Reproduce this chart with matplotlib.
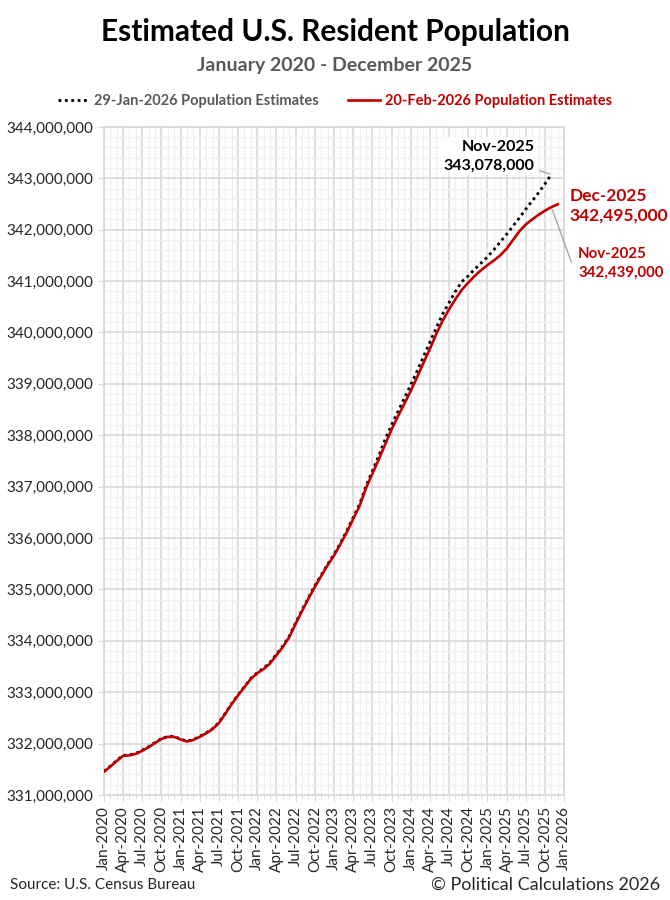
import matplotlib
matplotlib.use("Agg")
from matplotlib import pyplot as plt
from matplotlib.ticker import FuncFormatter, MultipleLocator
import numpy as np

plt.rcParams['font.family'] = ['Lato', 'DejaVu Sans']

# month index 0 = Jan-2020
tick_labels = ['Jan-2020', 'Apr-2020', 'Jul-2020', 'Oct-2020', 'Jan-2021', 'Apr-2021',
               'Jul-2021', 'Oct-2021', 'Jan-2022', 'Apr-2022', 'Jul-2022', 'Oct-2022',
               'Jan-2023', 'Apr-2023', 'Jul-2023', 'Oct-2023', 'Jan-2024', 'Apr-2024',
               'Jul-2024', 'Oct-2024', 'Jan-2025', 'Apr-2025', 'Jul-2025', 'Oct-2025',
               'Jan-2026']

# 20-Feb-2026 estimates, millions, Jan-2020 .. Dec-2025
feb_est = [331.45, 331.55, 331.66, 331.76, 331.77, 331.80, 331.86, 331.93, 332.01, 332.09,
           332.13, 332.13, 332.08, 332.04, 332.07, 332.13, 332.20, 332.28, 332.40, 332.58,
           332.77, 332.94, 333.10, 333.26, 333.37, 333.45, 333.56, 333.72, 333.88, 334.07,
           334.33, 334.58, 334.82, 335.05, 335.26, 335.47, 335.66, 335.88, 336.11, 336.37,
           336.62, 336.97, 337.25, 337.53, 337.82, 338.11, 338.37, 338.61, 338.86, 339.13,
           339.41, 339.68, 339.97, 340.23, 340.45, 340.65, 340.83, 340.97, 341.10, 341.21,
           341.31, 341.40, 341.50, 341.63, 341.80, 341.97, 342.10, 342.20, 342.29, 342.37,
           342.439, 342.495]

# 29-Jan-2026 estimates, millions, Jan-2020 .. Nov-2025
jan_est = [331.46, 331.56, 331.67, 331.77, 331.78, 331.81, 331.87, 331.94, 332.02, 332.10,
           332.14, 332.14, 332.09, 332.05, 332.08, 332.14, 332.21, 332.29, 332.41, 332.59,
           332.78, 332.95, 333.11, 333.27, 333.38, 333.47, 333.58, 333.74, 333.90, 334.09,
           334.35, 334.60, 334.84, 335.07, 335.28, 335.49, 335.68, 335.90, 336.14, 336.40,
           336.66, 337.01, 337.30, 337.60, 337.92, 338.20, 338.46, 338.72, 338.98, 339.25,
           339.53, 339.81, 340.09, 340.36, 340.58, 340.80, 340.99, 341.10, 341.23, 341.35,
           341.47, 341.61, 341.76, 341.91, 342.07, 342.23, 342.40, 342.56, 342.72, 342.89,
           343.078]

feb = np.array(feb_est) * 1e6
jan = np.array(jan_est) * 1e6
x_feb = np.arange(len(feb))
x_jan = np.arange(len(jan))

RED = '#c00000'
GRAY = '#595959'

fig = plt.figure(figsize=(6.7, 9), dpi=100)
ax = fig.add_axes([0.155, 0.1167, 0.687, 0.7423])

ax.plot(x_jan, jan, color='black', linewidth=2.0, linestyle=(0, (1, 1.3)),
        label='29-Jan-2026 Population Estimates', zorder=3)
ax.plot(x_feb, feb, color=RED, linewidth=1.9, label='20-Feb-2026 Population Estimates', zorder=4)

ax.set_xlim(0, 72)
ax.set_ylim(331e6, 344e6)
ax.xaxis.set_minor_locator(MultipleLocator(1))
ax.set_xticks(np.arange(0, 73, 3))
ax.set_xticklabels(tick_labels, rotation=90, fontsize=11, color='#262626')
ax.yaxis.set_major_locator(MultipleLocator(1e6))
ax.yaxis.set_minor_locator(MultipleLocator(2e5))
ax.yaxis.set_major_formatter(FuncFormatter(lambda v, p: '{:,.0f}'.format(v)))
ax.tick_params(axis='y', labelsize=11, colors='#d9d9d9', length=4)
ax.tick_params(axis='y', which='minor', length=0)
ax.tick_params(axis='x', which='major', colors='#d9d9d9', length=5, pad=3)
ax.tick_params(axis='x', which='minor', colors='#d9d9d9', length=3)
for lab in ax.get_yticklabels() + ax.get_xticklabels():
    lab.set_color('#262626')

ax.grid(True, which='major', color='#d9d9d9', linewidth=1.2, zorder=0)
ax.grid(True, which='minor', color='#f0f0f0', linewidth=1.0, zorder=0)
ax.set_axisbelow(True)
for s in ax.spines.values():
    s.set_color('#d9d9d9')
    s.set_linewidth(1.2)

# annotations
ax.annotate('Nov-2025\n343,078,000', xy=(x_jan[-1], jan[-1]), xytext=(67.4, 343.43e6),
            ha='right', va='center', fontsize=11.5, fontweight='bold', color='black',
            linespacing=1.45, bbox=dict(boxstyle='square,pad=0.15', fc='white', ec='none'),
            arrowprops=dict(arrowstyle='-', color='#a6a6a6', lw=1, shrinkA=2, shrinkB=1),
            zorder=6)
ax.text(72.8, 342.46e6, 'Dec-2025\n342,495,000', ha='left', va='center', fontsize=12.5,
        fontweight='bold', color=RED, linespacing=1.3, clip_on=False)
ax.annotate('Nov-2025\n342,439,000', xy=(x_feb[-2], feb[-2]), xytext=(74.2, 341.34e6),
            ha='left', va='center', fontsize=10.8, fontweight='bold', color=RED,
            linespacing=1.4, annotation_clip=False,
            arrowprops=dict(arrowstyle='-', color='#a6a6a6', lw=1, shrinkA=3, shrinkB=2,
                            connectionstyle='angle,angleA=0,angleB=-70,rad=0'))

fig.text(0.5, 0.964, 'Estimated U.S. Resident Population', ha='center', va='center',
         fontsize=21.5, fontweight='bold', color='black')
fig.text(0.5, 0.927, 'January 2020 - December 2025', ha='center', va='center',
         fontsize=14, fontweight='bold', color=GRAY)

leg = fig.legend(loc='center', bbox_to_anchor=(0.5, 0.888), ncol=2, frameon=False,
                 fontsize=10.5, handlelength=2.2, columnspacing=2.0, handletextpad=0.3)
for txt, c in zip(leg.get_texts(), [GRAY, RED]):
    txt.set_color(c)
    txt.set_fontweight('bold')

fig.text(0.015, 0.017, 'Source: U.S. Census Bureau', ha='left', va='center', fontsize=11,
         color='#262626')
fig.text(0.985, 0.017, '\u00a9 Political Calculations 2026', ha='right', va='center',
         fontsize=13, color='#262626')

plt.savefig('out.png', dpi=100)
